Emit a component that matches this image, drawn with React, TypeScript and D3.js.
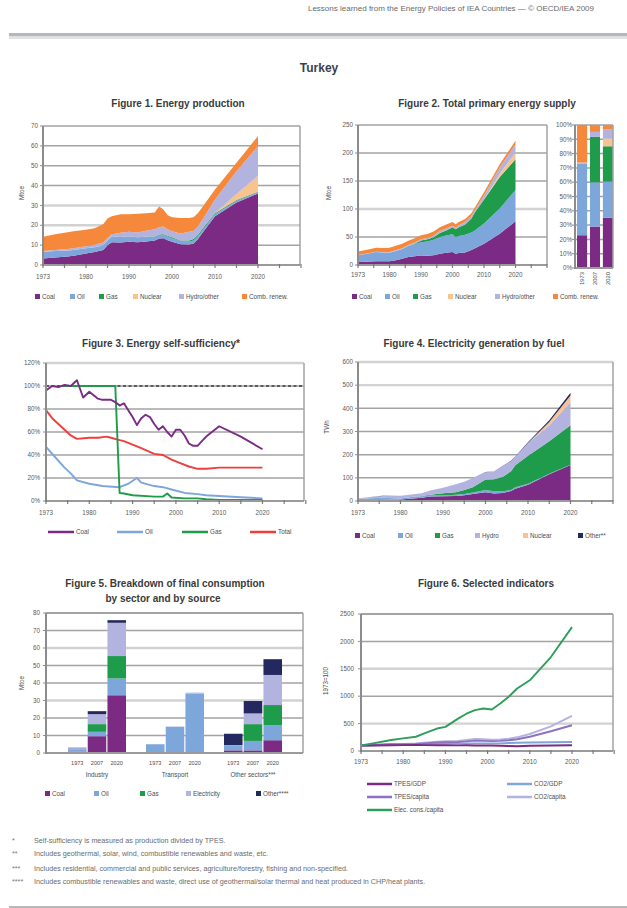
import { useEffect, useRef } from "react";
import * as d3 from "d3";

const FONT = "'Liberation Sans', Arial, Helvetica, sans-serif";
const HEADER = "Lessons learned from the Energy Policies of IEA Countries — © OECD/IEA 2009";

const COAL = "#7B2B84";
const OIL = "#7DA6DA";
const GAS = "#1E9B4B";
const NUCLEAR = "#F7C48F";
const HYDRO = "#B3B3DF";
const RENEW = "#F5883A";
const OTHER = "#23285E";
const TOTAL = "#F03E3E";

// x axis: labelled years are equally spaced, as in the original
const axisYears = [1973, 1980, 1990, 2000, 2010, 2020, 2030];
const yearLabels = [1973, 1980, 1990, 2000, 2010, 2020];

// Figure 1. Energy production (Mtoe)
const prodYears = [1973, 1975, 1977, 1978, 1980, 1982, 1984, 1985, 1986, 1988, 1990, 1992, 1994, 1996, 1997, 1998, 1999, 2000, 2002, 2004, 2005, 2006, 2007, 2010, 2015, 2020];
const prodCoal = [3.3, 3.8, 4.3, 4.6, 5.8, 6.5, 7.5, 10, 11.5, 11.3, 11.7, 11.5, 11.8, 12.3, 13.3, 13.5, 12.5, 11.7, 10.5, 10.3, 10.8, 13, 16, 24.5, 31.5, 36];
const prodOil = [3.4, 3.2, 3.0, 2.9, 2.6, 2.5, 2.3, 2.3, 2.5, 2.6, 2.5, 2.3, 2.2, 2.0, 2.0, 1.8, 1.8, 1.8, 1.6, 1.5, 1.5, 1.3, 1.2, 1.0, 0.8, 0.6];
const prodGas = [0, 0, 0, 0, 0, 0, 0, 0.05, 0.3, 0.2, 0.2, 0.2, 0.2, 0.2, 0.2, 0.3, 0.4, 0.5, 0.3, 0.6, 0.8, 0.8, 0.8, 0.5, 0.4, 0.3];
const prodNuclear = [0, 0, 0, 0, 0, 0, 0, 0, 0, 0, 0, 0, 0, 0, 0, 0, 0, 0, 0, 0, 0, 0, 0, 0, 3, 8];
const prodHydro = [0.3, 0.5, 0.8, 0.9, 1.0, 1.2, 1.5, 1.2, 1.2, 2.1, 2.3, 2.4, 3.0, 3.5, 3.6, 3.8, 3.3, 3.0, 3.5, 4.3, 4.0, 4.3, 4.5, 7, 11.5, 15];
const prodRenew = [7.2, 8.0, 8.4, 8.6, 8.4, 8.3, 9.2, 9.9, 9.0, 9.3, 8.8, 9.4, 8.8, 8.5, 10.4, 8.6, 7.0, 7.0, 7.8, 7.0, 6.9, 6.6, 6.5, 5.0, 4.3, 5.1];

// Figure 2. Total primary energy supply (Mtoe)
const tpesYears = [1973, 1975, 1977, 1979, 1980, 1982, 1984, 1986, 1988, 1990, 1992, 1994, 1996, 1998, 2000, 2001, 2002, 2004, 2006, 2007, 2010, 2015, 2020];
const tpesCoal = [5.5, 6, 6.5, 6.8, 6.5, 8.5, 11, 14.5, 15.5, 16.9, 16.5, 17.5, 20, 22, 23.4, 20, 21.5, 22.5, 27, 29.5, 38, 56, 78];
const tpesOil = [12, 14, 16.5, 15, 15.5, 16.5, 17.5, 19.5, 21.5, 23.9, 25.5, 27.5, 30, 30.5, 31.4, 30, 30.5, 31.5, 31, 31.5, 36, 45, 56];
const tpesGas = [0, 0, 0, 0, 0, 0, 0, 0.2, 1, 2.9, 4, 4.5, 7, 9, 12.6, 14, 15.5, 18.5, 25, 32.3, 43, 56, 55];
const tpesNuclear = [0, 0, 0, 0, 0, 0, 0, 0, 0, 0, 0, 0, 0, 0, 0, 0, 0, 0, 0, 0, 0, 6, 12];
const tpesHydro = [0.2, 0.4, 0.7, 0.9, 1.0, 1.2, 1.3, 1.3, 2.0, 2.1, 2.3, 2.9, 3.6, 3.8, 2.7, 2.5, 3.3, 4.2, 4.4, 3.6, 7, 11, 14];
const tpesRenew = [6.3, 6.8, 7.3, 7.6, 7.9, 8.0, 8.2, 8.0, 7.6, 7.2, 7.2, 7.2, 7.0, 6.8, 6.5, 6.2, 6.0, 5.6, 5.2, 4.9, 6, 6, 7];
const shareYears = [1973, 2007, 2020];

// Figure 3. Energy self-sufficiency (%)
const ssCoalYears = [1973, 1974, 1975, 1976, 1977, 1978, 1979, 1980, 1981, 1982, 1983, 1984, 1985, 1986, 1987, 1988, 1989, 1990, 1991, 1992, 1993, 1994, 1995, 1996, 1997, 1998, 1999, 2000, 2001, 2002, 2003, 2004, 2005, 2006, 2007, 2010, 2015, 2020];
const ssCoal = [96, 100, 99, 101, 100, 105, 90, 95, 92, 89, 88, 88, 88, 86, 83, 85, 79, 73, 66, 72, 75, 73, 67, 62, 65, 60, 56, 62, 62, 57, 50, 48, 48, 52, 56, 65, 56, 45];
const ssOilYears = [1973, 1975, 1976, 1977, 1978, 1980, 1983, 1987, 1989, 1991, 1992, 1995, 1997, 1999, 2002, 2005, 2007, 2010, 2015, 2020];
const ssOil = [47, 35, 29, 24, 18, 15, 13, 12, 15, 20, 16, 13, 12, 10, 7, 6, 5, 4.3, 3.2, 2.3];
const ssGasYears = [1976, 1978, 1980, 1982, 1984, 1986, 1987, 1988, 1990, 1995, 1997, 1998, 1999, 2002, 2005, 2007, 2010, 2015, 2020];
const ssGas = [100, 100, 100, 100, 100, 100, 7, 6.5, 5, 3.8, 3.8, 6.5, 3, 2.3, 2.3, 1.5, 1, 1, 1];
const ssTotalYears = [1973, 1974, 1975, 1976, 1977, 1978, 1980, 1982, 1984, 1985, 1987, 1988, 1990, 1992, 1995, 1997, 1999, 2001, 2003, 2005, 2007, 2010, 2015, 2020];
const ssTotal = [79, 72, 67, 62, 57, 54, 55, 55, 56, 55, 53, 52, 49, 46, 41, 40, 36, 33, 30, 28, 28, 29, 29, 29];

// Figure 4. Electricity generation by fuel (TWh)
const elecYears = [1973, 1975, 1977, 1980, 1983, 1985, 1987, 1990, 1993, 1995, 1997, 2000, 2002, 2004, 2006, 2007, 2010, 2015, 2020];
const elecCoal = [3, 3.5, 4.5, 6, 11, 14, 19, 20, 22, 25, 30, 38, 32, 34, 43, 53, 70, 115, 155];
const elecOil = [6, 8, 9, 5, 7, 7, 5, 3.9, 5, 5.5, 7, 9, 10, 7.7, 4.3, 6.5, 5, 3, 2];
const elecGas = [0, 0, 0, 0, 0, 0.1, 2.8, 10, 10.8, 16.6, 22, 46, 52, 62.2, 80.7, 95, 120, 140, 170];
const elecHydro = [2.6, 5.9, 8.6, 11.3, 11, 12, 18.6, 23, 34, 35.5, 39.8, 31, 34, 46, 44, 36, 55, 68, 100];
const elecNuclear = [0, 0, 0, 0, 0, 0, 0, 0, 0, 0, 0, 0, 0, 0, 0, 0, 0, 15, 28];
const elecOther = [0.2, 0.3, 0.3, 0.3, 0.3, 0.3, 0.3, 0.5, 0.5, 0.6, 0.7, 0.8, 0.8, 0.8, 1.5, 1.8, 4, 8, 12];

// Figure 5. Final consumption by sector and source (Mtoe), sector x period
const sectors = ["Industry", "Transport", "Other sectors***"];
const periods = ["1973", "2007", "2020"];
const fcCoal = [0.8, 9.6, 33, 0, 0, 0, 1.5, 1.5, 7.3];
const fcOil = [1.4, 2.5, 9.6, 5, 15, 34, 2.5, 5.4, 8.6];
const fcGas = [0, 4.4, 12.8, 0, 0, 0, 0, 9.6, 11.5];
const fcElec = [0.6, 5.7, 19, 0, 0.1, 0.5, 0.5, 6.1, 17.2];
const fcOther = [0.2, 1.7, 1.5, 0, 0, 0, 6.5, 7.1, 9];

// Figure 6. Selected indicators (1973=100)
const indYears = [1973, 1975, 1978, 1980, 1983, 1985, 1988, 1990, 1993, 1995, 1997, 1999, 2001, 2003, 2005, 2007, 2010, 2015, 2020];
const indTpesGdp = [100, 100, 105, 108, 110, 108, 105, 105, 103, 105, 100, 100, 100, 95, 90, 88, 95, 100, 105];
const indCo2Gdp = [100, 105, 115, 118, 125, 128, 132, 135, 135, 138, 140, 140, 140, 140, 145, 150, 155, 160, 165];
const indTpesCap = [100, 110, 125, 125, 130, 140, 155, 160, 165, 175, 190, 185, 180, 185, 195, 215, 260, 360, 470];
const indCo2Cap = [100, 112, 130, 130, 137, 150, 170, 178, 185, 200, 220, 215, 205, 210, 225, 250, 310, 450, 640];
const indElecCap = [100, 140, 200, 230, 260, 320, 410, 440, 590, 680, 745, 775, 757, 866, 990, 1140, 1290, 1715, 2260];

const notes = [
    ["*", "Self-sufficiency is measured as production divided by TPES."],
    ["**", "Includes geothermal, solar, wind, combustible renewables and waste, etc."],
    ["***", "Includes residential, commercial and public services, agriculture/forestry, fishing and non-specified."],
    ["****", "Includes combustible renewables and waste, direct use of geothermal/solar thermal and heat produced in CHP/heat plants."],
];

type G = d3.Selection<SVGGElement, unknown, null, undefined>;
type Lin = d3.ScaleLinear<number, number>;
type Series = { color: string; values: number[] };

function yearScale(x0: number, step: number): Lin {
    return d3.scaleLinear().domain(axisYears).range(axisYears.map((_, i) => x0 + i * step));
}

function txt(g: G, x: number, y: number, s: string, size: number, anchor = "start", weight = "normal", fill = "#4d4d4d") {
    return g.append("text").attr("x", x).attr("y", y).attr("font-size", size)
        .attr("text-anchor", anchor).attr("font-weight", weight).attr("fill", fill).text(s);
}

function vtxt(g: G, x: number, y: number, s: string, size: number, anchor = "middle") {
    return g.append("text").attr("transform", `translate(${x},${y}) rotate(-90)`)
        .attr("font-size", size).attr("text-anchor", anchor).attr("fill", "#4d4d4d").text(s);
}

function grid(g: G, y: Lin, x0: number, x1: number, ticks: number[], fmt: (v: number) => string, labelX: number, light: number[] = []) {
    g.append("g").selectAll("line").data(ticks).join("line")
        .attr("x1", x0).attr("x2", x1).attr("y1", d => y(d)).attr("y2", d => y(d))
        .attr("stroke", d => light.includes(d) ? "#d2d2d2" : "#a3a3a3")
        .attr("stroke-width", d => light.includes(d) ? 2.4 : 1.5);
    g.append("g").selectAll("line").data(ticks).join("line")
        .attr("x1", x0 - 3).attr("x2", x0).attr("y1", d => y(d)).attr("y2", d => y(d))
        .attr("stroke", "#8f8f8f").attr("stroke-width", 1);
    g.append("g").selectAll("text").data(ticks).join("text")
        .attr("x", labelX).attr("y", d => y(d) + 2.2).attr("text-anchor", "end")
        .attr("font-size", 6.3).attr("fill", "#5a5a5a").text(fmt);
}

function frame(g: G, y: Lin, x0: number, x1: number) {
    const [b, t] = y.range();
    g.append("line").attr("x1", x1).attr("x2", x1).attr("y1", t).attr("y2", b).attr("stroke", "#a3a3a3").attr("stroke-width", 1.5);
    g.append("line").attr("x1", x0).attr("x2", x1).attr("y1", b).attr("y2", b).attr("stroke", "#9a9a9a").attr("stroke-width", 1.8);
    g.append("line").attr("x1", x0).attr("x2", x0).attr("y1", t).attr("y2", b + 1).attr("stroke", "#8c8c8c").attr("stroke-width", 2);
}

function yearAxis(g: G, xs: Lin, base: number, labelY: number) {
    const r = xs.range();
    const pos = d3.range(r.length * 2 - 1).map(k => k % 2 === 0 ? r[k / 2] : (r[(k - 1) / 2] + r[(k + 1) / 2]) / 2);
    g.append("g").selectAll("line").data(pos).join("line")
        .attr("x1", d => d).attr("x2", d => d).attr("y1", base - 1).attr("y2", base + 3)
        .attr("stroke", "#7a7a7a").attr("stroke-width", 1.2);
    g.append("g").selectAll("text").data(yearLabels).join("text")
        .attr("x", d => xs(d)).attr("y", labelY).attr("text-anchor", "middle")
        .attr("font-size", 6.3).attr("fill", "#5a5a5a").text(d => String(d));
}

function stacked(g: G, xs: Lin, ys: Lin, years: number[], series: Series[]) {
    const rows = years.map((yr, i) => {
        const r: Record<string, number> = { year: yr };
        series.forEach((s, k) => { r["s" + k] = s.values[i]; });
        return r;
    });
    const layers = d3.stack<Record<string, number>>().keys(series.map((_, k) => "s" + k))(rows);
    const area = d3.area<d3.SeriesPoint<Record<string, number>>>()
        .x(d => xs(d.data.year)).y0(d => ys(d[0])).y1(d => ys(d[1]));
    g.append("g").selectAll("path").data(layers).join("path")
        .attr("d", d => area(d)).attr("fill", (_, k) => series[k].color);
}

function line(g: G, xs: Lin, ys: Lin, years: number[], values: number[], color: string, width = 1.9) {
    const gen = d3.line<number>().x((_, i) => xs(years[i])).y(d => ys(d));
    g.append("path").attr("d", gen(values)).attr("fill", "none").attr("stroke", color)
        .attr("stroke-width", width).attr("stroke-linejoin", "round");
}

function swatchLegend(g: G, items: [string, string, number][], y: number) {
    items.forEach(([name, color, x]) => {
        g.append("rect").attr("x", x).attr("y", y - 5).attr("width", 5).attr("height", 5).attr("fill", color);
        txt(g, x + 7, y, name, 6.3);
    });
}

function lineLegend(g: G, items: [string, string, number, number][], len: number) {
    items.forEach(([name, color, x, y]) => {
        g.append("line").attr("x1", x).attr("x2", x + len).attr("y1", y - 2).attr("y2", y - 2)
            .attr("stroke", color).attr("stroke-width", 2.5);
        txt(g, x + len + 2, y, name, 6.3);
    });
}

function render(el: SVGSVGElement) {
    const svg = d3.select(el);
    svg.selectAll("*").remove();
    const root = svg.append("g").attr("font-family", FONT) as unknown as G;

    // page header
    txt(root, 594, 11, HEADER, 8, "end", "normal", "#6a6a6a");
    root.append("rect").attr("x", 9).attr("y", 33).attr("width", 618).attr("height", 3.5).attr("fill", "#b4b8bc");
    root.append("rect").attr("x", 9).attr("y", 36.5).attr("width", 618).attr("height", 2.5).attr("fill", "#e1e2e3");
    txt(root, 319, 72, "Turkey", 12, "middle", "bold", "#3a3f4a");

    // Figure 1
    {
        const g = root.append("g") as G;
        const xs = yearScale(43, 43);
        const ys = d3.scaleLinear([0, 70], [265, 126]);
        txt(g, 178, 107, "Figure 1. Energy production", 10, "middle", "bold", "#3a3a3a");
        grid(g, ys, 43, 300, d3.range(0, 71, 10), String, 38, [20, 30]);
        stacked(g, xs, ys, prodYears, [
            { color: COAL, values: prodCoal }, { color: OIL, values: prodOil }, { color: GAS, values: prodGas },
            { color: NUCLEAR, values: prodNuclear }, { color: HYDRO, values: prodHydro }, { color: RENEW, values: prodRenew },
        ]);
        frame(g, ys, 43, 300);
        yearAxis(g, xs, 265, 279);
        vtxt(g, 24, 193, "Mtoe", 6.3);
        swatchLegend(g, [["Coal", COAL, 35], ["Oil", OIL, 70], ["Gas", GAS, 99], ["Nuclear", NUCLEAR, 133],
            ["Hydro/other", HYDRO, 179], ["Comb. renew.", RENEW, 242]], 299);
    }

    // Figure 2
    {
        const g = root.append("g") as G;
        const xs = yearScale(358, 31.5);
        const ys = d3.scaleLinear([0, 250], [265, 125]);
        const series = [
            { color: COAL, values: tpesCoal }, { color: OIL, values: tpesOil }, { color: GAS, values: tpesGas },
            { color: NUCLEAR, values: tpesNuclear }, { color: HYDRO, values: tpesHydro }, { color: RENEW, values: tpesRenew },
        ];
        txt(g, 487, 107, "Figure 2. Total primary energy supply", 10, "middle", "bold", "#3a3a3a");
        grid(g, ys, 358, 547, d3.range(0, 251, 50), String, 353, [100]);
        stacked(g, xs, ys, tpesYears, series);
        frame(g, ys, 358, 547);
        yearAxis(g, xs, 265, 277);
        vtxt(g, 331, 193, "Mtoe", 6.3);

        // shares panel
        const yp = d3.scaleLinear([0, 1], [268, 125]);
        grid(g, yp, 575, 613, d3.range(0, 1.01, 0.1), v => Math.round(v * 100) + "%", 572);
        const bx = d3.scaleBand<number>().domain(shareYears).range([576, 614]).paddingInner(0.22).paddingOuter(0.08);
        const rows = shareYears.map(yr => {
            const i = tpesYears.indexOf(yr);
            const r: Record<string, number> = { year: yr };
            series.forEach((s, k) => { r["s" + k] = s.values[i]; });
            return r;
        });
        const layers = d3.stack<Record<string, number>>().keys(series.map((_, k) => "s" + k)).offset(d3.stackOffsetExpand)(rows);
        layers.forEach((layer, k) => {
            g.append("g").selectAll("rect").data(layer).join("rect")
                .attr("x", d => bx(d.data.year)!).attr("width", bx.bandwidth())
                .attr("y", d => yp(d[1])).attr("height", d => yp(d[0]) - yp(d[1]))
                .attr("fill", series[k].color);
        });
        frame(g, yp, 575, 613);
        shareYears.forEach(yr => vtxt(g, bx(yr)! + bx.bandwidth() / 2 + 2, 272, String(yr), 5.8, "end"));
        swatchLegend(g, [["Coal", COAL, 352], ["Oil", OIL, 385], ["Gas", GAS, 413], ["Nuclear", NUCLEAR, 448],
            ["Hydro/other", HYDRO, 495], ["Comb. renew.", RENEW, 553]], 299);
    }

    // Figure 3
    {
        const g = root.append("g") as G;
        const xs = yearScale(46, 43.3);
        const ys = d3.scaleLinear([0, 120], [501, 363]);
        txt(g, 161, 347, "Figure 3. Energy self-sufficiency*", 10, "middle", "bold", "#3a3a3a");
        grid(g, ys, 46, 304, d3.range(0, 121, 20), v => v + "%", 40, [120]);
        g.append("line").attr("x1", 46).attr("x2", 304).attr("y1", ys(100)).attr("y2", ys(100))
            .attr("stroke", "#3c3c3c").attr("stroke-width", 1.5).attr("stroke-dasharray", "3,2.5");
        line(g, xs, ys, ssOilYears, ssOil, OIL);
        line(g, xs, ys, ssTotalYears, ssTotal, TOTAL);
        line(g, xs, ys, ssGasYears, ssGas, GAS);
        line(g, xs, ys, ssCoalYears, ssCoal, COAL);
        frame(g, ys, 46, 304);
        yearAxis(g, xs, 501, 515);
        lineLegend(g, [["Coal", COAL, 48, 534], ["Oil", OIL, 117, 534], ["Gas", GAS, 182, 534], ["Total", TOTAL, 250, 534]], 26);
    }

    // Figure 4
    {
        const g = root.append("g") as G;
        const xs = yearScale(358, 42.5);
        const ys = d3.scaleLinear([0, 600], [501, 362]);
        txt(g, 474, 347, "Figure 4. Electricity generation by fuel", 10, "middle", "bold", "#3a3a3a");
        grid(g, ys, 358, 613, d3.range(0, 601, 100), String, 353, [500, 600]);
        stacked(g, xs, ys, elecYears, [
            { color: COAL, values: elecCoal }, { color: OIL, values: elecOil }, { color: GAS, values: elecGas },
            { color: HYDRO, values: elecHydro }, { color: NUCLEAR, values: elecNuclear }, { color: OTHER, values: elecOther },
        ]);
        frame(g, ys, 358, 613);
        yearAxis(g, xs, 501, 515);
        vtxt(g, 329, 427, "TWh", 6.3);
        swatchLegend(g, [["Coal", COAL, 355], ["Oil", OIL, 398], ["Gas", GAS, 435], ["Hydro", HYDRO, 475],
            ["Nuclear", NUCLEAR, 523], ["Other**", OTHER, 578]], 538);
    }

    // Figure 5
    {
        const g = root.append("g") as G;
        const ys = d3.scaleLinear([0, 80], [753, 613]);
        txt(g, 165, 587, "Figure 5. Breakdown of final consumption", 10, "middle", "bold", "#3a3a3a");
        txt(g, 163, 602, "by sector and by source", 10, "middle", "bold", "#3a3a3a");
        grid(g, ys, 46, 303, d3.range(0, 81, 10), String, 40, [30, 60]);
        g.append("line").attr("x1", 46).attr("x2", 303).attr("y1", ys(80)).attr("y2", ys(80)).attr("stroke", "#a3a3a3").attr("stroke-width", 1.8);
        const xo = d3.scaleBand<string>().domain(sectors).range([58, 292]);
        const xi = d3.scaleBand<string>().domain(periods).range([10, 68]).paddingInner(0.06);
        const src = [
            { color: COAL, values: fcCoal }, { color: OIL, values: fcOil }, { color: GAS, values: fcGas },
            { color: HYDRO, values: fcElec }, { color: OTHER, values: fcOther },
        ];
        const rows = sectors.flatMap((s, si) => periods.map((p, pi) => {
            const r: Record<string, any> = { sector: s, period: p };
            src.forEach((c, k) => { r["s" + k] = c.values[si * 3 + pi]; });
            return r;
        }));
        const layers = d3.stack<Record<string, any>>().keys(src.map((_, k) => "s" + k))(rows);
        layers.forEach((layer, k) => {
            g.append("g").selectAll("rect").data(layer).join("rect")
                .attr("x", d => xo(d.data.sector)! + xi(d.data.period)!).attr("width", xi.bandwidth())
                .attr("y", d => ys(d[1])).attr("height", d => ys(d[0]) - ys(d[1]))
                .attr("fill", src[k].color);
        });
        frame(g, ys, 46, 303);
        sectors.forEach(s => {
            periods.forEach(p => txt(g, xo(s)! + xi(p)! + xi.bandwidth() / 2, 765, p, 5.6, "middle"));
            txt(g, xo(s)! + 39, 777, s, 6.3, "middle");
        });
        vtxt(g, 24, 683, "Mtoe", 6.3);
        swatchLegend(g, [["Coal", COAL, 45], ["Oil", OIL, 94], ["Gas", GAS, 140], ["Electricity", HYDRO, 186],
            ["Other****", OTHER, 256]], 796);
    }

    // Figure 6
    {
        const g = root.append("g") as G;
        const xs = yearScale(361, 42.2);
        const ys = d3.scaleLinear([0, 2500], [751, 614]);
        txt(g, 486, 587, "Figure 6. Selected indicators", 10, "middle", "bold", "#3a3a3a");
        grid(g, ys, 361, 613, d3.range(0, 2501, 500), String, 354, [500, 1500]);
        g.append("line").attr("x1", 361).attr("x2", 613).attr("y1", ys(2500)).attr("y2", ys(2500)).attr("stroke", "#a3a3a3").attr("stroke-width", 1.8);
        line(g, xs, ys, indYears, indCo2Gdp, OIL);
        line(g, xs, ys, indYears, indCo2Cap, HYDRO);
        line(g, xs, ys, indYears, indTpesCap, "#8E72C2");
        line(g, xs, ys, indYears, indTpesGdp, COAL);
        line(g, xs, ys, indYears, indElecCap, "#2E9E5A");
        frame(g, ys, 361, 613);
        yearAxis(g, xs, 751, 764);
        vtxt(g, 328, 681, "1973=100", 6.3);
        lineLegend(g, [
            ["TPES/GDP", COAL, 367, 786], ["CO2/GDP", OIL, 507, 786],
            ["TPES/capita", "#8E72C2", 367, 799], ["CO2/capita", HYDRO, 507, 799],
            ["Elec. cons./capita", "#2E9E5A", 367, 812],
        ], 25);
    }

    // footnotes
    notes.forEach(([mark, note], i) => {
        const y = [842.5, 855.5, 870.5, 883.5][i];
        txt(root, 12, y, mark, 7.2, "start", "normal", "#777");
        txt(root, 34, y, note, 7.2, "start", "normal", "#6a6a6a");
    });
    root.append("rect").attr("x", 9).attr("y", 906).attr("width", 618).attr("height", 2).attr("fill", "#b8b8b8");
}

export default function App() {
    const ref = useRef<SVGSVGElement | null>(null);
    useEffect(() => {
        if (ref.current) render(ref.current);
    }, []);
    return (
        <svg ref={ref} width={627} height={908}
            style={{ position: "absolute", left: 0, top: 0, background: "#fff" }} />
    );
}
